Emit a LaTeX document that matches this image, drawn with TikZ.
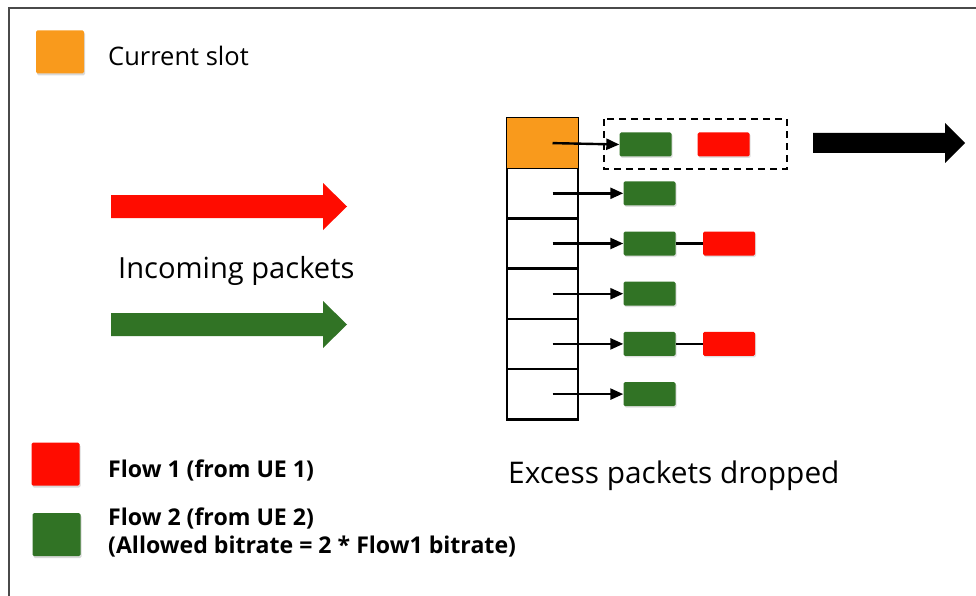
\documentclass[tikz,border=0pt]{standalone}
\usepackage{fontspec}
\setmainfont{Open Sans}
\usepackage{tikz}
\usetikzlibrary{positioning,arrows.meta,shadows,calc}
\definecolor{slotorange}{HTML}{F99A1C}
\definecolor{flowred}   {HTML}{FF0C00}
\definecolor{flowgreen} {HTML}{317325}
\definecolor{framegray} {HTML}{4A4A4A}
\tikzset{
  % --- nodes
  pkt/.style    = {rounded corners=1.5pt, minimum width=52pt, minimum height=24pt,
                   inner sep=0pt, drop shadow={opacity=0.25, shadow xshift=1pt, shadow yshift=-1.5pt}},
  gpkt/.style   = {pkt, fill=flowgreen},
  rpkt/.style   = {pkt, fill=flowred},
  cell/.style   = {draw=black, line width=2.6pt, minimum width=71pt, minimum height=50.2pt,
                   inner sep=0pt},
  swatch/.style = {rounded corners=1.5pt, minimum width=48pt, minimum height=43pt, inner sep=0pt,
                   drop shadow={opacity=0.3, shadow xshift=1pt, shadow yshift=-2pt}},
  big/.style    = {font=\fontsize{25.5}{30}\selectfont, anchor=base west, inner sep=0pt},
  legend/.style = {font=\fontsize{23.1}{27}\selectfont\bfseries, anchor=base west, inner sep=0pt},
  % --- edges
  ptr/.style    = {-{Triangle[length=13pt,width=11pt]}, line width=2.4pt},
  link/.style   = {line width=2.4pt},
}

\begin{document}
\begin{tikzpicture}[x=1pt,y=-1pt]
  \useasboundingbox (0,0) rectangle (976,596);
  % frame
  \draw[draw=framegray,line width=1.5pt] (976,8) -- (9,8) -- (9,596);

  % legend: current slot
  \node[swatch, fill=slotorange] (lgslot) at (60,52) {};
  \node[big] (lgslottxt) at (108,66) {Current slot};

  % incoming packets
  \fill[flowred]   (111,195) -- (323,195) -- (323,183) -- (347,206.5) -- (323,230) -- (323,218) -- (111,218) -- cycle;
  \fill[flowgreen] (111,313) -- (323,313) -- (323,301) -- (347,324.5) -- (323,348) -- (323,336) -- (111,336) -- cycle;
  \node[big, font=\fontsize{29.1}{33}\selectfont] (incoming) at (118,278) {Incoming packets};

  % slots
  \foreach \i in {1,...,6}
    \node[cell] (s\i) at (542.5,{118+50.2*(\i-0.5)}) {};
  \fill[slotorange] ($(s1.north west)+(1.3,1.3)$) rectangle ($(s1.south east)+(-1.3,-1.3)$);

  % packets per slot
  \node[gpkt] (g1) at (645.5,144.5) {};
  \node[rpkt] (r1) at (723.5,144.5) {};
  \foreach \i in {2,...,6}
    \node[gpkt] (g\i) at (649.5,{118+50.2*(\i-0.5)}) {};
  \node[rpkt] (r3) at (729,{118+50.2*2.5}) {};
  \node[rpkt] (r5) at (729,{118+50.2*4.5}) {};

  \foreach \i in {1,...,6}
    \draw[ptr] ([xshift=10pt]s\i.center) -- (g\i.west);
  \draw[link] (g3.east) -- (r3.west);
  \draw[link] (g5.east) -- (r5.west);

  % sent from current slot
  \draw[line width=2.2pt, dash pattern=on 7pt off 5pt] (604,119) rectangle (787,169);
  \fill[black] (813,133) -- (945,133) -- (945,123) -- (965,143) -- (945,163) -- (945,153) -- (813,153) -- cycle;

  \node[big, font=\fontsize{29.8}{34}\selectfont] (excess) at (508,483) {Excess packets dropped};

  % legend: flows
  \node[swatch, fill=flowred]   (lgred)   at (55.5,464) {};
  \node[swatch, fill=flowgreen] (lggreen) at (56.5,534.5) {};
  \node[legend] (lgredtxt) at (108,477) {Flow 1 (from UE 1)};
  \node[legend] (lggreentxt) at (108,525) {Flow 2 (from UE 2)};
  \node[legend] (lgrate) at (108,553) {(Allowed bitrate = 2 * Flow1 bitrate)};
\end{tikzpicture}
\end{document}
